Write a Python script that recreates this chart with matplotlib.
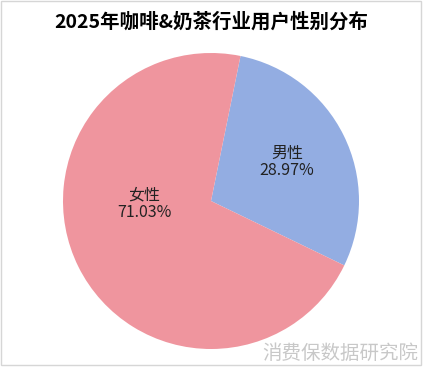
import matplotlib
matplotlib.use("Agg")
import matplotlib.pyplot as plt
from matplotlib.patches import Rectangle

plt.rcParams['font.family'] = ['Noto Sans CJK SC', 'DejaVu Sans']

categories = ["男性", "女性"]
shares = [28.97, 71.03]
colors = ["#93ADE2", "#EF959E"]
title = "2025年咖啡&奶茶行业用户性别分布"
watermark = "消费保数据研究院"

W, H = 436, 379
fig = plt.figure(figsize=(W / 100, H / 100), dpi=100)
ax = fig.add_axes([0, 0, 1, 1])
ax.set_xlim(0, W)
ax.set_ylim(0, H)
ax.axis("off")

# pie centre / radius in pixel units (y measured from top)
cx, cy, r = 211, 201, 148
ax.pie(shares, colors=colors, startangle=78.5, counterclock=False,
       center=(cx, H - cy), radius=r, frame=False,
       wedgeprops=dict(linewidth=0))
ax.set_xlim(0, W)
ax.set_ylim(0, H)
ax.set_aspect("auto")

label_pos = [(287, 162), (144, 204)]
for name, val, (lx, ly) in zip(categories, shares, label_pos):
    ax.text(lx, H - ly, f"{name}\n{val:.2f}%", ha="center", va="center",
            fontsize=11.5, color="#222222", linespacing=1.05)

ax.text(211, H - 22, title, ha="center", va="center",
        fontsize=14, fontweight="bold", color="black")
ax.text(418, H - 353, watermark, ha="right", va="center",
        fontsize=14, color="#c8c8c8")

# thin frame around the chart area
fig.add_artist(Rectangle((0.5 / W, 1 - 364.5 / H), 420.5 / W, 364 / H,
                         transform=fig.transFigure, fill=False,
                         edgecolor="#d6d6d6", linewidth=1))

fig.savefig("out.png", dpi=100, facecolor="white")
